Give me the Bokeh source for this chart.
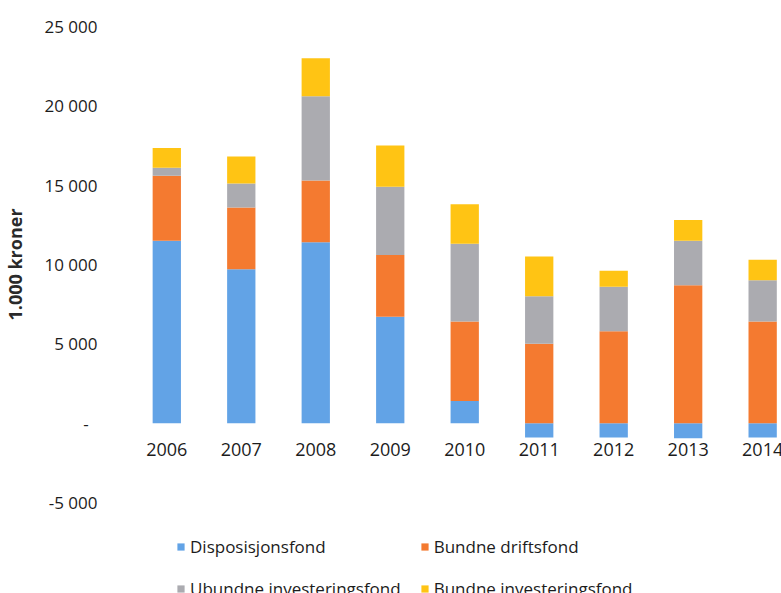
from bokeh.plotting import figure
from bokeh.models import (ColumnDataSource, Range1d, FixedTicker,
                          Legend, LegendItem)
from bokeh.layouts import column
from bokeh.core.properties import value
from bokeh.embed import file_html
from bokeh.resources import INLINE
import numpy as np

# Fund balances per year, in 1 000 NOK
years = [2006, 2007, 2008, 2009, 2010, 2011, 2012, 2013, 2014]
year_labels = [str(y) for y in years]
disposisjonsfond = [11500, 9700, 11400, 6700, 1400, -900, -900, -950, -900]
bundne_driftsfond = [4100, 3900, 3900, 3900, 5000, 5000, 5800, 8700, 6400]
ubundne_investeringsfond = [500, 1500, 5300, 4300, 4900, 3000, 2800, 2800, 2600]
bundne_investeringsfond = [1250, 1700, 2400, 2600, 2500, 2500, 1000, 1300, 1300]

series_names = ["Disposisjonsfond", "Bundne driftsfond",
                "Ubundne investeringsfond", "Bundne investeringsfond"]
series_values = [disposisjonsfond, bundne_driftsfond,
                 ubundne_investeringsfond, bundne_investeringsfond]
series_colors = ["#62A3E6", "#F47A30", "#ABABB0", "#FFC414"]

y_ticks = [-5000, 0, 5000, 10000, 15000, 20000, 25000]
y_tick_labels = ["-5 000", "-\u00a0\u00a0", "5 000", "10 000", "15 000", "20 000", "25 000"]

FONT = "Open Sans"
TEXT = "#1c1c1c"

p = figure(width=781, height=520, output_backend="svg", toolbar_location=None,
           x_axis_type=None,
           x_range=Range1d(2005.271, 2014.253), y_range=Range1d(-5000, 25000),
           min_border_left=106, min_border_right=0, min_border_top=26,
           min_border_bottom=18)
p.outline_line_color = None
p.background_fill_color = "white"
p.border_fill_color = "white"
p.xgrid.visible = False
p.ygrid.visible = False

# Stack positives upward and negatives downward from zero
pos_base = np.zeros(len(years))
neg_base = np.zeros(len(years))
for name, vals, color in zip(series_names, series_values, series_colors):
    v = np.array(vals, dtype=float)
    bottom = np.where(v >= 0, pos_base, neg_base + v)
    top = np.where(v >= 0, pos_base + v, neg_base)
    pos_base = np.where(v >= 0, pos_base + v, pos_base)
    neg_base = np.where(v < 0, neg_base + v, neg_base)
    src = ColumnDataSource(dict(x=years, bottom=bottom, top=top))
    p.vbar(x="x", width=0.38, bottom="bottom", top="top", source=src,
           fill_color=color, line_color=None)

# Value axis
yax = p.yaxis[0]
yax.ticker = FixedTicker(ticks=y_ticks)
yax.major_label_overrides = dict(zip(y_ticks, y_tick_labels))
yax.axis_line_color = None
yax.major_tick_line_color = None
yax.minor_tick_line_color = None
yax.major_label_standoff = 9
yax.major_label_text_font = FONT
yax.major_label_text_font_size = "17px"
yax.major_label_text_color = TEXT
yax.axis_label = "1.000 kroner"
yax.axis_label_text_font = FONT
yax.axis_label_text_font_size = "18px"
yax.axis_label_text_font_style = "bold"
yax.axis_label_text_color = "#2a2a2a"
yax.axis_label_standoff = 14

# Year labels sit just under the zero line
label_src = ColumnDataSource(dict(x=years, y=[0] * len(years), text=year_labels))
p.text(x="x", y="y", text="text", source=label_src,
       text_align="center", text_baseline="top", y_offset=20,
       text_font=value(FONT), text_font_size="18px", text_color=TEXT)

# Legend strip under the chart: one flat swatch renderer per series, two rows
leg = figure(width=781, height=73, output_backend="svg", toolbar_location=None,
             x_axis_type=None, y_axis_type=None,
             x_range=Range1d(0, 1), y_range=Range1d(0, 1),
             min_border_left=0, min_border_right=0, min_border_top=0,
             min_border_bottom=0)
leg.outline_line_color = None
leg.xgrid.visible = False
leg.ygrid.visible = False
swatches = {}
for name, color in zip(series_names, series_colors):
    flat = ColumnDataSource(dict(x=[0], top=[0]))
    r = leg.vbar(x="x", top="top", width=0.01, source=flat,
                 fill_color=color, line_color=None)
    swatches[name] = LegendItem(label=name, renderers=[r])

order = ["Disposisjonsfond", "Ubundne investeringsfond",
         "Bundne driftsfond", "Bundne investeringsfond"]
legend = Legend(items=[swatches[n] for n in order], ncols=2, location=(64, -7),
                glyph_width=9, glyph_height=9, label_standoff=5,
                label_height=20, spacing=19, padding=0, margin=0,
                label_text_font=FONT, label_text_font_size="17px",
                label_text_color=TEXT, border_line_color=None,
                background_fill_alpha=0)
leg.add_layout(legend)

layout = column(p, leg, spacing=0)
open("out.html", "w").write(file_html(layout, INLINE))
